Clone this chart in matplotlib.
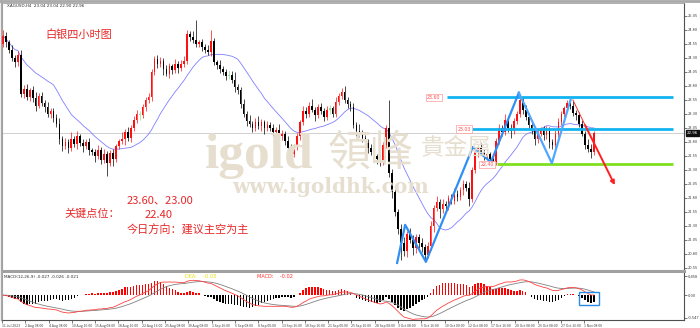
import numpy as np
import pandas as pd
import matplotlib
matplotlib.use('Agg')
import matplotlib.pyplot as plt
from matplotlib.lines import Line2D
from matplotlib.transforms import blended_transform_factory

plt.rcParams['font.family'] = ['Noto Sans CJK SC', 'DejaVu Sans']

W, H = 700, 328

# --- H4 closes (left to right) ---
close = [
    24.70, 24.58, 24.45, 24.30, 24.22, 24.35, 23.66, 23.75, 23.60, 23.72,
    23.58, 23.45, 23.62, 23.50, 23.42, 23.30, 23.35, 23.22, 23.12, 22.85,
    22.72, 22.80, 22.70, 22.85, 22.76, 22.90, 22.78, 22.72, 22.80, 22.65,
    22.62, 22.55, 22.66, 22.48, 22.58, 22.42, 22.60, 22.50, 22.72, 22.82,
    22.85, 22.98, 22.88, 23.05, 23.20, 23.30, 23.28, 23.42, 23.55, 23.60,
    24.05, 24.28, 24.20, 24.25, 24.10, 24.02, 24.15, 24.08, 24.20, 24.12,
    24.20, 24.25, 24.72, 24.68, 24.62, 24.55, 24.58, 24.50, 24.45, 24.40,
    24.60, 24.22, 24.18, 24.10, 24.05, 23.98, 24.00, 23.90, 23.78, 23.72,
    23.48, 23.30, 23.18, 23.12, 23.05, 23.15, 23.08, 23.15, 23.05, 23.10,
    23.05, 22.98, 23.02, 22.90, 22.95, 22.82, 22.70, 22.58, 22.72, 22.90,
    23.15, 23.35, 23.30, 23.45, 23.38, 23.28, 23.42, 23.35, 23.25, 23.38,
    23.40, 23.30, 23.52, 23.62, 23.70, 23.55, 23.48, 23.42, 23.10, 23.00,
    22.95, 22.88, 22.78, 22.70, 22.62, 22.55, 22.50, 22.45, 22.75, 23.05,
    22.25, 21.90, 21.55, 21.25, 21.00, 20.85, 21.15, 21.05, 20.90, 21.10,
    21.00, 20.92, 20.78, 20.95, 21.30, 21.62, 21.72, 21.60, 21.70, 21.66,
    21.80, 21.75, 21.88, 21.82, 21.95, 22.05, 21.98, 21.78, 22.30, 22.62,
    22.70, 22.62, 22.55, 22.58, 22.50, 22.45, 22.82, 23.05, 22.98, 23.20,
    23.05, 23.00, 23.18, 23.30, 23.55, 23.38, 23.25, 23.10, 23.02, 22.85,
    22.95, 23.02, 22.92, 23.00, 22.80, 22.75, 22.95, 23.15, 23.30, 23.40,
    23.50, 23.45, 23.32, 23.28, 23.12, 22.95, 22.75, 22.68, 22.62, 22.96,
]
first_open = 24.55

# upper / lower shadow lengths in cents
up_wick = [
    10, 6, 5, 8, 6, 8, 10, 6, 8, 5,
    8, 12, 6, 8, 5, 10, 6, 5, 8, 10,
    6, 8, 5, 12, 6, 10, 5, 7, 6, 8,
    5, 6, 8, 5, 10, 6, 5, 8, 5, 4,
    12, 6, 8, 5, 6, 8, 6, 5, 6, 8,
    5, 6, 8, 6, 5, 8, 6, 5, 8, 5,
    6, 8, 8, 6, 10, 36, 5, 6, 5, 8,
    20, 6, 5, 8, 6, 5, 8, 6, 15, 5,
    6, 8, 6, 10, 5, 8, 12, 6, 5, 8,
    6, 8, 5, 10, 6, 5, 8, 6, 5, 6,
    5, 10, 8, 6, 12, 5, 6, 8, 5, 6,
    6, 5, 8, 6, 6, 10, 6, 5, 8, 5,
    12, 6, 5, 8, 6, 5, 4, 6, 5, 5,
    50, 6, 8, 6, 8, 10, 6, 12, 8, 5,
    6, 8, 5, 6, 8, 5, 12, 6, 8, 5,
    6, 8, 10, 6, 5, 8, 6, 10, 6, 8,
    5, 8, 6, 10, 5, 6, 5, 8, 6, 10,
    6, 8, 5, 6, 10, 5, 8, 6, 8, 5,
    8, 5, 6, 8, 6, 5, 6, 8, 6, 5,
    5, 6, 8, 5, 6, 8, 5, 10, 8, 4,
]
dn_wick = [
    5, 8, 6, 5, 8, 6, 6, 8, 5, 6,
    6, 10, 5, 6, 8, 5, 8, 6, 5, 8,
    8, 5, 10, 6, 5, 8, 6, 10, 5, 8,
    6, 10, 5, 8, 6, 23, 5, 12, 6, 5,
    6, 10, 6, 8, 5, 6, 8, 5, 6, 5,
    6, 5, 8, 6, 10, 5, 8, 6, 5, 8,
    5, 6, 5, 8, 6, 5, 6, 8, 6, 5,
    6, 5, 8, 6, 5, 8, 6, 5, 8, 6,
    8, 6, 10, 5, 8, 6, 5, 8, 10, 6,
    6, 8, 5, 10, 6, 8, 6, 10, 5, 6,
    6, 5, 8, 6, 5, 10, 6, 5, 8, 6,
    8, 6, 5, 6, 5, 6, 8, 6, 5, 10,
    6, 8, 6, 10, 6, 8, 10, 8, 6, 5,
    8, 10, 8, 10, 30, 8, 10, 6, 12, 8,
    10, 8, 12, 6, 8, 10, 6, 15, 6, 8,
    8, 6, 5, 8, 6, 10, 6, 12, 5, 6,
    8, 6, 8, 5, 10, 8, 6, 5, 8, 6,
    8, 12, 6, 5, 6, 8, 6, 5, 8, 10,
    6, 5, 8, 6, 10, 8, 5, 6, 5, 6,
    5, 6, 5, 8, 6, 5, 8, 6, 10, 5,
]

price_ticks = [20.55, 20.80, 21.05, 21.30, 21.55, 21.80, 22.05, 22.30, 22.55, 22.80,
               23.05, 23.30, 23.55, 23.80, 24.05, 24.30, 24.55, 24.80, 25.05]
date_labels = ['11 Jul 2023', '2 Aug 08:00', '4 Aug 08:00', '10 Aug 16:00', '15 Aug 08:00',
               '18 Aug 16:00', '22 Aug 16:00', '25 Aug 08:00', '30 Aug 08:00', '1 Sep 16:00',
               '6 Sep 08:00', '8 Sep 00:00', '13 Sep 16:00', '18 Sep 16:00', '21 Sep 00:00',
               '25 Sep 16:00', '28 Sep 08:00', '3 Oct 08:00', '5 Oct 16:00', '10 Oct 00:00',
               '12 Oct 08:00', '17 Oct 16:00', '20 Oct 08:00', '25 Oct 08:00', '27 Oct 16:00',
               '1 Nov 08:00']

# key levels drawn on the chart
level_prices = [23.60, 23.03, 22.40]
level_start = [149.5, 158.0, 166.3]
level_label_bar = [145.0, 155.3, 163.0]
level_colors = ['#12b4f0', '#12b4f0', '#7fe01e']
level_end = 225.5

# zig-zag pattern (bar index, price)
zz_bars = [132.7, 135.4, 142.4, 158.2, 164.3, 173.7, 184.8, 191.2]
zz_prices = [20.64, 21.32, 20.66, 22.71, 22.44, 23.68, 22.42, 23.57]
# projected down move
arrow_bars = [191.9, 196.0, 206.0]
arrow_prices = [23.55, 23.10, 22.03]

bid = 22.96

# ---------------------------------------------------------------
c = np.array(close)
o = np.r_[first_open, c[:-1]]
hi = np.maximum(o, c) + np.array(up_wick) / 100.0
lo = np.minimum(o, c) - np.array(dn_wick) / 100.0
n = len(c)
xs = np.arange(n)

ma = pd.Series(c).rolling(18, min_periods=1).mean()
ema_f = pd.Series(c).ewm(span=12, adjust=False).mean()
ema_s = pd.Series(c).ewm(span=26, adjust=False).mean()
dif = ema_f - ema_s
dea = dif.ewm(span=9, adjust=False).mean()
hist = 2 * (dif - dea)

fig = plt.figure(figsize=(W / 100, H / 100), dpi=100)


def box(x0, y0, x1, y1):
    return [x0 / W, 1 - y1 / H, (x1 - x0) / W, (y1 - y0) / H]


ax = fig.add_axes(box(2, 3, 684, 271))
axm = fig.add_axes(box(2, 273, 684, 320))

xlim = (-0.34, 229.3)
for a in (ax, axm):
    a.set_xlim(*xlim)
    a.set_facecolor('white')
    a.spines['left'].set_color('#a0a0a0')
    a.spines['top'].set_color('#a0a0a0')
    a.spines['right'].set_color('#505050')
    a.spines['right'].set_linewidth(0.8)
    a.yaxis.tick_right()
    a.tick_params(axis='y', length=2, width=0.5, labelsize=2.9, pad=1.0, colors='#404040')

ax.set_ylim(20.496, 25.282)
ax.spines['bottom'].set_color('#a0a0a0')
ax.spines['bottom'].set_linewidth(2.2)
ax.spines['top'].set_linewidth(0.6)
ax.set_xticks([])
ax.set_yticks(price_ticks)
ax.set_yticklabels(['%.2f' % v for v in price_ticks])

# watermark
wm = '#e6dfcf'
fig.text(205 / W, 1 - 168 / H, 'igold', family='Liberation Serif', weight='bold',
         fontsize=37, color=wm, zorder=0)
fig.text(328 / W, 1 - 166 / H, '領峰', family='Noto Sans CJK TC', fontsize=31,
         color=wm, zorder=0)
fig.text(421 / W, 1 - 155 / H, '貴金屬', family='Noto Sans CJK TC', fontsize=17,
         color=wm, zorder=0)
fig.text(232 / W, 1 - 193 / H, 'www.igoldhk.com', family='DejaVu Serif', weight='bold',
         fontsize=14.5, color=wm, zorder=0)
ax.patch.set_alpha(0)

# bid line
ax.axhline(bid, color='#c8c8c8', lw=0.6, zorder=1)

# moving average
ax.plot(xs, ma, color='#7f7fff', lw=0.6, zorder=2)

# candles
up = c >= o
doji = np.abs(c - o) < 0.025
cols = np.where(doji, '#8fe08f', np.where(up, '#ff1010', '#000000'))
ax.vlines(xs, lo, hi, colors=cols, lw=0.5, zorder=3)
ax.bar(xs, np.maximum(np.abs(c - o), 0.012), bottom=np.minimum(o, c), width=0.55,
       color=cols, linewidth=0, zorder=3)

# levels
for p, s, lb, col in zip(level_prices, level_start, level_label_bar, level_colors):
    ax.plot([s, level_end], [p, p], color=col, lw=2.0, zorder=4, solid_capstyle='butt')
    ax.text(lb, p, '%.2f' % p, fontsize=3.4, color='#ff5050', ha='center', va='center',
            family='DejaVu Sans', zorder=5,
            bbox=dict(boxstyle='square,pad=0.25', fc='white', ec='#ff9a9a', lw=0.5))

# pattern
ax.plot(zz_bars[:6], zz_prices[:6], color='#2f8ff5', lw=1.6, zorder=4)
ax.plot(zz_bars[5:], zz_prices[5:], color='#4fa8ff', lw=1.6, zorder=4)
ax.plot(arrow_bars[:2], arrow_prices[:2], color='#ff3030', lw=0.7, zorder=4)
ax.annotate('', xy=(arrow_bars[2], arrow_prices[2]), xytext=(arrow_bars[1], arrow_prices[1]),
            arrowprops=dict(arrowstyle='-|>', color='#ff2020', lw=1.4,
                            mutation_scale=6, shrinkA=0, shrinkB=0), zorder=4)

# bid marker on the axis
tr = blended_transform_factory(ax.transAxes, ax.transData)
ax.text(1.004, bid, '%.2f' % bid, transform=tr, fontsize=2.9, color='white',
        va='center', ha='left', family='DejaVu Sans', clip_on=False,
        bbox=dict(boxstyle='square,pad=0.2', fc='#101010', ec='#101010'))

# MACD panel
axm.set_ylim(-0.595, 0.530)
hcol = np.where(hist >= 0, '#ff0000', '#000000')
axm.bar(xs, hist, width=0.5, color=hcol, linewidth=0, zorder=2)
axm.plot(xs, dea, color='#808080', lw=0.6, zorder=3)
axm.plot(xs, dif, color='#ff4040', lw=0.6, zorder=3)
axm.set_yticks([0.458, 0.0, -0.547])
axm.set_yticklabels(['0.458', '0.00', '-0.547'])
axm.spines['bottom'].set_color('#505050')
axm.spines['bottom'].set_linewidth(0.8)
axm.spines['top'].set_visible(False)
axm.add_patch(plt.Rectangle((194.0, -0.24), 6.8, 0.32, fill=False, ec='#2a8ae8', lw=1.0, zorder=4))

tick_pos = [-0.34 + 7.845 * k for k in range(len(date_labels))]
axm.set_xticks(tick_pos)
axm.set_xticklabels(date_labels, ha='left')
axm.tick_params(axis='x', length=2, width=0.5, labelsize=2.5, pad=1.0, colors='#404040')

# header and texts
fig.text(7 / W, 1 - 6 / H, 'XAGUSD,H4  23.04 23.04 22.90 22.96', fontsize=3.0,
         color='#303030', family='DejaVu Sans', va='center')
fig.text(4 / W, 1 - 277 / H, 'MACD(12,26,9) -0.027 -0.026 -0.021', fontsize=3.0,
         color='#303030', family='DejaVu Sans', va='center')
fig.text(185 / W, 1 - 277 / H, 'DEA:    -0.03', fontsize=3.6, color='#e8e000',
         family='DejaVu Sans', va='center')
fig.text(257 / W, 1 - 277 / H, 'MACD:    -0.02', fontsize=3.6, color='#ff3030',
         family='DejaVu Sans', va='center')

red = '#e82828'
fig.text(45 / W, 1 - 35 / H, '白银四小时图', fontsize=8, color=red, va='center')
fig.text(127 / W, 1 - 200 / H, '23.60、23.00', fontsize=8, color=red, va='center')
fig.text(64 / W, 1 - 214 / H, '关键点位：', fontsize=8, color=red, va='center')
fig.text(145 / W, 1 - 215 / H, '22.40', fontsize=8, color=red, va='center')
fig.text(127 / W, 1 - 230 / H, '今日方向：建议主空为主', fontsize=8, color=red, va='center')

# outer frame
fig.add_artist(Line2D([0, 1], [1 - 1 / H, 1 - 1 / H], color='#a8a8a8', lw=2.0))
fig.add_artist(Line2D([1 / W, 1 / W], [1 - 320 / H, 1], color='#a8a8a8', lw=1.0))

fig.savefig('out.png', dpi=100)
